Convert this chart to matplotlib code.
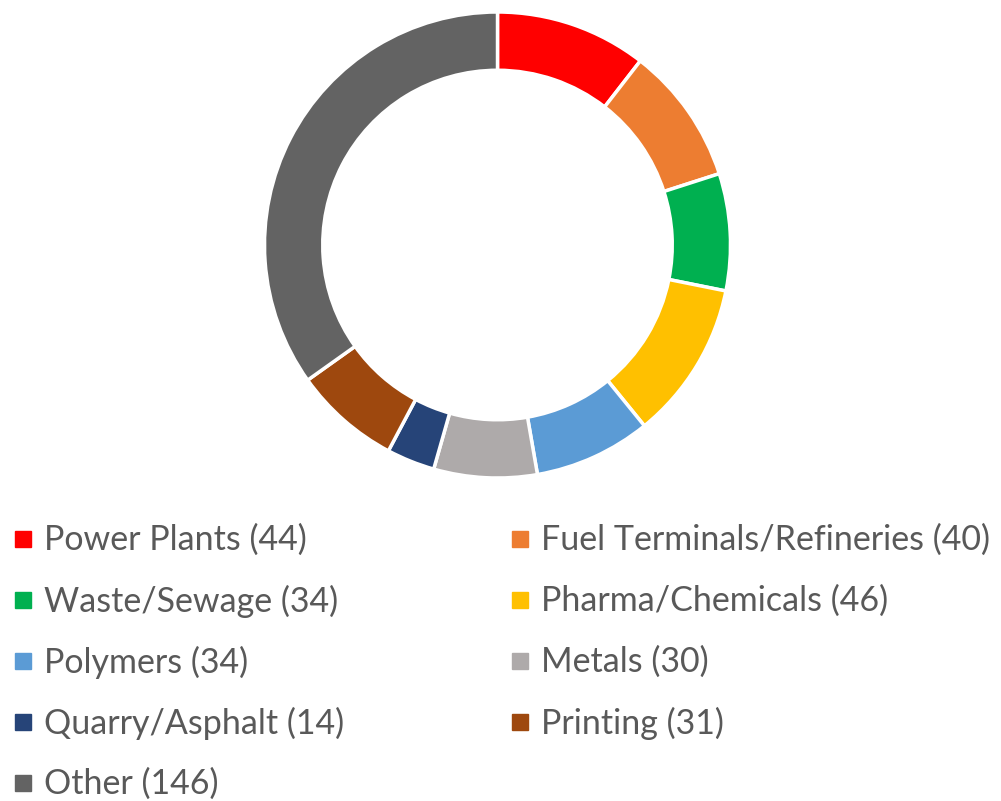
import matplotlib
matplotlib.use("Agg")
import matplotlib.pyplot as plt
from matplotlib.patches import Rectangle

labels = ["Power Plants", "Fuel Terminals/Refineries", "Waste/Sewage", "Pharma/Chemicals",
          "Polymers", "Metals", "Quarry/Asphalt", "Printing", "Other"]
counts = [44, 40, 34, 46, 34, 30, 14, 31, 146]
colors = ["#FF0000", "#ED7D31", "#00B050", "#FFC000", "#5B9BD5",
          "#AEAAAA", "#264478", "#9E480E", "#636363"]

W, H = 1001, 801
fig = plt.figure(figsize=(W / 100, H / 100), dpi=100)

# donut
cx, cy, r = 497.5, 245, 233
ax = fig.add_axes([(cx - r) / W, 1 - (cy + r) / H, 2 * r / W, 2 * r / H])
ax.pie(counts, colors=colors, startangle=90, counterclock=False, radius=1,
       wedgeprops=dict(width=0.25, edgecolor="white", linewidth=2.5))
ax.set_xlim(-1, 1)
ax.set_ylim(-1, 1)
ax.set_aspect("equal")
ax.axis("off")

# legend, two columns
lax = fig.add_axes([0, 0, 1, 1])
lax.set_xlim(0, W)
lax.set_ylim(H, 0)
lax.axis("off")
col_x = [15, 512]
row_y = [539, 600, 661, 722, 783]
for i, (lab, n, c) in enumerate(zip(labels, counts, colors)):
    x = col_x[i % 2]
    y = row_y[i // 2]
    lax.add_patch(Rectangle((x, y - 8), 16, 16, color=c))
    lax.text(x + 29, y + 1, f"{lab} ({n})", fontsize=24.5, family="Lato",
             color="#595959", va="center", ha="left")

fig.savefig("out.png", dpi=100)
